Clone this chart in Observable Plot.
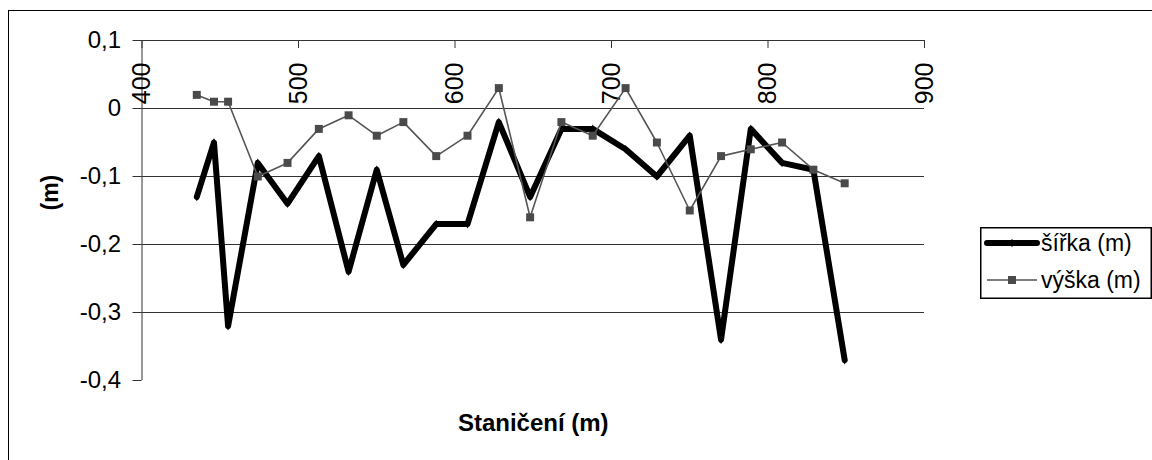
<!DOCTYPE html>
<html>
<head>
<meta charset="utf-8">
<script src="https://cdn.jsdelivr.net/npm/d3@7"></script>
<script src="https://cdn.jsdelivr.net/npm/@observablehq/plot@0.6"></script>
<style>
  html, body { margin: 0; padding: 0; background: #fff; }
  #wrap { position: relative; width: 1152px; height: 460px; overflow: hidden;
          font-family: "Liberation Sans", Arial, sans-serif; }
  #frame { position: absolute; left: 8px; top: 10px; right: -20px; bottom: -20px;
           border-left: 1.3px solid #000; border-top: 1.3px solid #000; }
  #chart { position: absolute; left: 0; top: 0; }
  #legend { position: absolute; left: 980px; top: 227px; }
</style>
</head>
<body>
<div id="wrap">
  <div id="frame"></div>
  <div id="chart"></div>
  <div id="legend"></div>
</div>
<script>
// Staničení (m) of each measured profile
const stations = [435, 446, 455, 474, 493, 513, 532, 550, 567, 588, 608, 628,
                  648, 668, 688, 709, 729, 750, 770, 789, 809, 829, 849];
// šířka (m)
const sirka = [-0.13, -0.05, -0.32, -0.08, -0.14, -0.07, -0.24, -0.09, -0.23, -0.17, -0.17, -0.02,
               -0.13, -0.03, -0.03, -0.06, -0.10, -0.04, -0.34, -0.03, -0.08, -0.09, -0.37];
// výška (m)
const vyska = [0.02, 0.01, 0.01, -0.10, -0.08, -0.03, -0.01, -0.04, -0.02, -0.07, -0.04, 0.03,
               -0.16, -0.02, -0.04, 0.03, -0.05, -0.15, -0.07, -0.06, -0.05, -0.09, -0.11];

const seriesNames = ["šířka (m)", "výška (m)"];
const xTicks = [400, 500, 600, 700, 800, 900];
const yTicks = [0.1, 0, -0.1, -0.2, -0.3, -0.4];
const yGrid = [0.1, 0, -0.1, -0.2, -0.3];
const xTitle = "Staničení (m)";
const yTitle = "(m)";

const font = "'Liberation Sans', Arial, sans-serif";
const fmtY = d => d === 0 ? "0" : d.toFixed(1).replace(".", ",");

const sirkaData = stations.map((s, i) => ({s, v: sirka[i]}));
const vyskaData = stations.map((s, i) => ({s, v: vyska[i]}));

const chart = Plot.plot({
  width: 1152,
  height: 460,
  marginLeft: 141.5,
  marginRight: 228,
  marginTop: 40,
  marginBottom: 80,
  style: {fontFamily: font, fontSize: "23px", background: "transparent", color: "#000", overflow: "visible"},
  x: {domain: [400, 900], axis: null},
  y: {domain: [-0.4, 0.1], axis: null},
  marks: [
    // horizontal gridlines (the top one doubles as the x axis line)
    Plot.ruleY(yGrid, {stroke: "#333", strokeWidth: 1}),
    // vertical axis line
    Plot.ruleX([400], {stroke: "#333", strokeWidth: 1}),
    // y ticks reaching out to the left of the axis
    Plot.ruleY(yTicks, {stroke: "#333", strokeWidth: 1, insetLeft: -9, insetRight: 782.5}),
    // y tick labels with decimal comma
    Plot.text(yTicks, {y: d => d, text: fmtY, frameAnchor: "left", dx: -21,
                       textAnchor: "end", lineAnchor: "middle", fontSize: 24}),
    // x ticks pointing down from the top axis
    Plot.ruleX(xTicks, {stroke: "#333", strokeWidth: 1, insetBottom: 332}),
    // rotated x tick labels inside the plot area
    Plot.text(xTicks, {x: d => d, text: d => String(d), frameAnchor: "top", dy: 22,
                       rotate: -90, textAnchor: "end", lineAnchor: "middle", fontSize: 25}),
    // axis titles
    Plot.text([yTitle], {frameAnchor: "left", dx: -91.5, rotate: -90, lineAnchor: "middle",
                         fontWeight: "bold", fontSize: 23}),
    Plot.text([xTitle], {frameAnchor: "bottom", dy: 43, lineAnchor: "middle",
                         fontWeight: "bold", fontSize: 24}),
    // šířka
    Plot.line(sirkaData, {x: "s", y: "v", stroke: "#000", strokeWidth: 6}),
    Plot.dot(sirkaData, {x: "s", y: "v", symbol: "diamond", r: 2.6, fill: "#000"}),
    // výška
    Plot.line(vyskaData, {x: "s", y: "v", stroke: "#555", strokeWidth: 1.6}),
    Plot.dot(vyskaData, {x: "s", y: "v", symbol: "square", r: 4.5, fill: "#4a4a4a"})
  ]
});
document.getElementById("chart").appendChild(chart);

// Legend box
const lg = d3.select("#legend").append("svg")
  .attr("width", 172).attr("height", 72)
  .style("font-family", font).style("font-size", "23px");
lg.append("rect").attr("x", 0.75).attr("y", 0.75).attr("width", 170.5).attr("height", 70.5)
  .attr("fill", "#fff").attr("stroke", "#000").attr("stroke-width", 1.5);
// row 1: šířka
lg.append("line").attr("x1", 7).attr("x2", 57).attr("y1", 16).attr("y2", 16)
  .attr("stroke", "#000").attr("stroke-width", 6).attr("stroke-linecap", "round");
lg.append("path").attr("transform", "translate(32,16)")
  .attr("d", d3.symbol(d3.symbolDiamond, Math.PI * 2.6 * 2.6)()).attr("fill", "#000");
lg.append("text").attr("x", 61).attr("y", 16).attr("dy", "0.35em").text(seriesNames[0]);
// row 2: výška
lg.append("line").attr("x1", 7).attr("x2", 57).attr("y1", 53).attr("y2", 53)
  .attr("stroke", "#555").attr("stroke-width", 1.6);
lg.append("rect").attr("x", 28).attr("y", 49).attr("width", 8).attr("height", 8).attr("fill", "#4a4a4a");
lg.append("text").attr("x", 61).attr("y", 53).attr("dy", "0.35em").text(seriesNames[1]);
</script>
</body>
</html>
